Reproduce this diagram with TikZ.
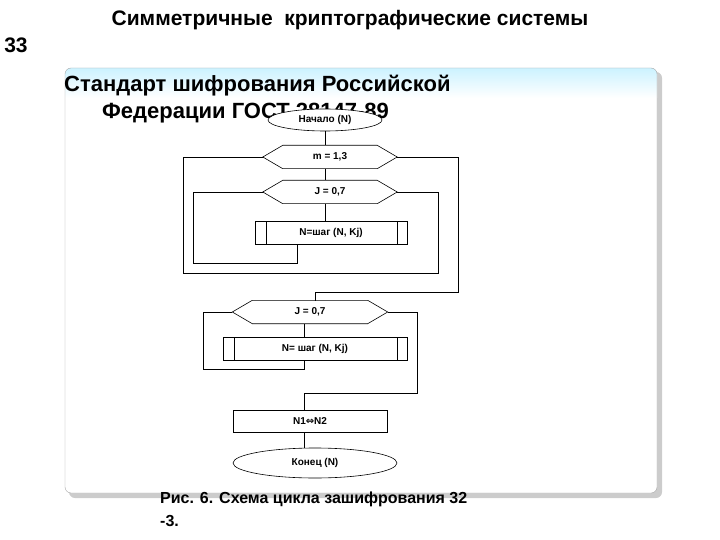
\documentclass[tikz,border=0pt]{standalone}
\usepackage{fontspec}
\setmainfont{Liberation Sans}
\newfontfamily\djv{DejaVu Sans}
\usetikzlibrary{shapes.geometric}
\newcommand\hexdraw[1]{\draw[line width=0.6pt] (#1.west) -- ([xshift=20pt]#1.north west) -- ([xshift=-20pt]#1.north east) -- (#1.east) -- ([xshift=-20pt]#1.south east) -- ([xshift=20pt]#1.south west) -- cycle;}
\newcommand\subbars[1]{\draw[line width=0.6pt] ([xshift=12pt]#1.north west) -- ([xshift=12pt]#1.south west) ([xshift=-10pt]#1.north east) -- ([xshift=-10pt]#1.south east);}
\begin{document}
\begin{tikzpicture}[x=1pt,y=-1pt,
 lbl/.style={font=\bfseries\fontsize{10}{11}\selectfont, inner sep=0pt},
 hexa/.style={lbl, minimum width=134pt, minimum height=23pt},
 sub/.style={lbl, draw, line width=0.6pt, minimum height=23pt},
 proc/.style={lbl, draw, line width=0.6pt, minimum height=22pt},
 term/.style={lbl, draw, line width=0.6pt, ellipse, inner sep=0pt},
 wire/.style={line width=0.6pt},
 head/.style={font=\bfseries\fontsize{22}{24}\selectfont, inner sep=0pt, anchor=west}]
\useasboundingbox (0,0) rectangle (720,540);
% panel
\fill[gray!40] (69,72) [rounded corners=6pt] rectangle (662,498);
\fill[white] (65,68) [rounded corners=6pt] rectangle (657,493);
\begin{scope}
\clip (65,68) [rounded corners=6pt] rectangle (657,493);
\shade[top color=blue!25!cyan!20, bottom color=white] (65,68) rectangle (657,98);
\end{scope}
\draw[gray!70] (65,68) [rounded corners=6pt] rectangle (657,493);
% titles
\node[font=\bfseries\fontsize{21}{24}\selectfont, inner sep=0pt] (t) at (350,20) {Симметричные\ \ криптографические системы};
\node[font=\bfseries\fontsize{21}{24}\selectfont, inner sep=0pt] (n) at (16,45) {33};
\node[head] (h1) at (64,86) {Стандарт шифрования Российской};
\node[head] (h2) at (102,113) {Федерации ГОСТ 28147-89};
% flowchart
\node[term, fill=white, minimum width=114pt, minimum height=22pt] (start) at (325,120) {Начало (N)};
\node[hexa] (m) at (330,157) {m = 1,3};
\node[hexa] (j1) at (330,192) {J = 0,7};
\node[sub, minimum width=152pt] (s1) at (331,233) {N=шаг (N, Kj)};
\node[hexa, minimum width=155pt] (j2) at (310,312) {J = 0,7};
\node[sub, minimum width=184pt] (s2) at (315,349) {N= шаг (N, Kj)};
\node[proc, minimum width=154pt] (x) at (310,421) {N1{\djv⇔}N2};
\node[term, minimum width=164pt, minimum height=30pt] (end) at (315,463) {Конец (N)};
\hexdraw{m}\hexdraw{j1}\hexdraw{j2}
\subbars{s1}\subbars{s2}
\draw[wire] (start.south) -- (start.south |- m.north);
\draw[wire] (start.south |- m.south) -- (start.south |- j1.north);
\draw[wire] (start.south |- j1.south) -- (start.south |- s1.north);
% inner loop 1
\draw[wire] (j1.west) -- (193,192) -- (193,263) -- (297,263) -- (297,244.5);
% middle loop
\draw[wire] (j1.east) -- (438,192) -- (438,273) -- (183,273) -- (183,157) -- (m.west);
% outer exit
\draw[wire] (m.east) -- (458,157) -- (458,292) -- (315,292) -- (315,300.5);
% second part
\draw[wire] (j2.west) -- (203,312) -- (203,369) -- (304,369) -- (304,360.5);
\draw[wire] (304,323.5) -- (304,337.5);
\draw[wire] (j2.east) -- (417,312) -- (417,393) -- (304,393) -- (304,410);
\draw[wire] (304,432) -- (304,448);
% caption
\node[font=\bfseries\fontsize{16}{18}\selectfont, inner sep=0pt, anchor=west] (cap1) at (160,499) {Рис. 6. Схема цикла зашифрования 32};
\node[font=\bfseries\fontsize{16}{18}\selectfont, inner sep=0pt, anchor=west] (cap2) at (160,521) {-3.};
\end{tikzpicture}
\end{document}
